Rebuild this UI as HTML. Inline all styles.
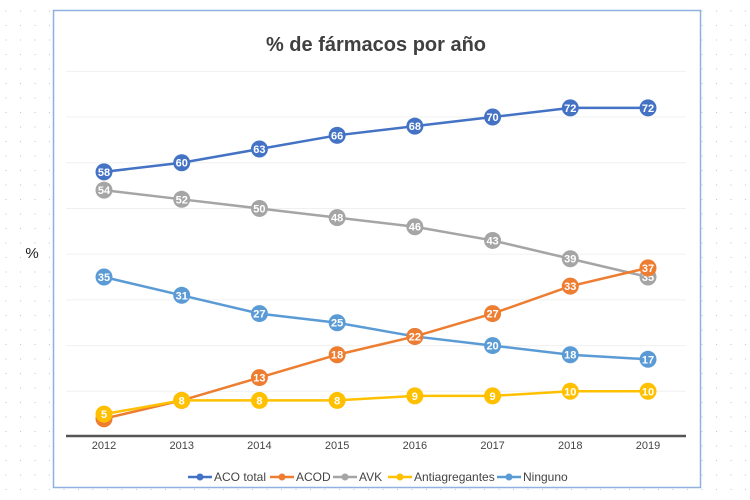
<!DOCTYPE html>
<html><head><meta charset="utf-8"><style>
body{margin:0;width:750px;height:500px;overflow:hidden;background:#fff;font-family:"Liberation Sans",sans-serif}
svg{display:block}
</style></head><body>
<svg id="c" width="750" height="500" xmlns="http://www.w3.org/2000/svg">
<defs><pattern id="dots" width="14.5" height="14.5" patternUnits="userSpaceOnUse" x="5" y="10"><circle cx="1" cy="1" r="0.6" fill="#c8c8c8"/></pattern></defs>
<rect width="750" height="500" fill="url(#dots)"/>
<rect x="53.5" y="10.5" width="647" height="477" fill="#fff" stroke="#8fb0e0" stroke-width="1.5"/>
<text x="376" y="51" text-anchor="middle" font-size="20" font-weight="bold" fill="#404040">% de fármacos por año</text>
<text x="32" y="258" text-anchor="middle" font-size="15" fill="#222">%</text>
<g id="grid"></g><g id="series"></g><g id="xaxis"></g><g id="legend"></g>
</svg>
<script>
const years=["2012","2013","2014","2015","2016","2017","2018","2019"];
const acoTotal=[58,60,63,66,68,70,72,72];
const acod=[4,8,13,18,22,27,33,37];
const avk=[54,52,50,48,46,43,39,35];
const antiag=[5,8,8,8,9,9,10,10];
const ninguno=[35,31,27,25,22,20,18,17];
const seriesNames=["ACO total","ACOD","AVK","Antiagregantes","Ninguno"];
const colors=["#4472c4","#ed7d31","#a5a5a5","#ffc000","#5b9bd5"];
const NS="http://www.w3.org/2000/svg";
function X(i){return 104+i*(648-104)/(years.length-1);}
function Y(v){return 437-v*4.571;}
function mk(t,a,p){const e=document.createElementNS(NS,t);for(const k in a)e.setAttribute(k,a[k]);p.appendChild(e);return e;}
const grid=document.getElementById('grid');
for(let v=10;v<=80;v+=10){const l=mk('line',{x1:66,x2:686,y1:Y(v),y2:Y(v),stroke:'#f0f0f0','stroke-width':1},grid);

}
const xa=document.getElementById('xaxis');
const ax=mk('line',{x1:66,x2:686,y1:436,y2:436,stroke:'#555','stroke-width':2.5},xa);


years.forEach((y,i)=>{const t=mk('text',{x:X(i),y:449,'text-anchor':'middle','font-size':11,fill:'#444'},xa);t.textContent=y;

});
const data=[acoTotal,acod,avk,antiag,ninguno];
const sg=document.getElementById('series');
[4,2,1,3,0].forEach(s=>{
 const g=mk('g',{},sg);
 
 
 const pts=data[s].map((v,i)=>X(i)+','+Y(v)).join(' ');
 const pl=mk('polyline',{points:pts,fill:'none',stroke:colors[s],'stroke-width':2.5},g);
 
 
 data[s].forEach((v,i)=>{
  const c=mk('circle',{cx:X(i),cy:Y(v),r:8.5,fill:colors[s]},g);
  
  
  const t=mk('text',{x:X(i),y:Y(v)+4,'text-anchor':'middle','font-size':11,'font-weight':'bold',fill:'#fff'},g);t.textContent=v;
  
  
 });
});
const lg=document.getElementById('legend');
const lx=[188,270,333,388,497];
seriesNames.forEach((n,i)=>{
 const g=mk('g',{},lg);
 
 
 mk('line',{x1:lx[i],x2:lx[i]+24,y1:477,y2:477,stroke:colors[i],'stroke-width':2.5},g);
 mk('circle',{cx:lx[i]+12,cy:477,r:3.5,fill:colors[i]},g);
 const t=mk('text',{x:lx[i]+26,y:481,'font-size':12,fill:'#444'},g);t.textContent=n;
});
</script>
</body></html>
